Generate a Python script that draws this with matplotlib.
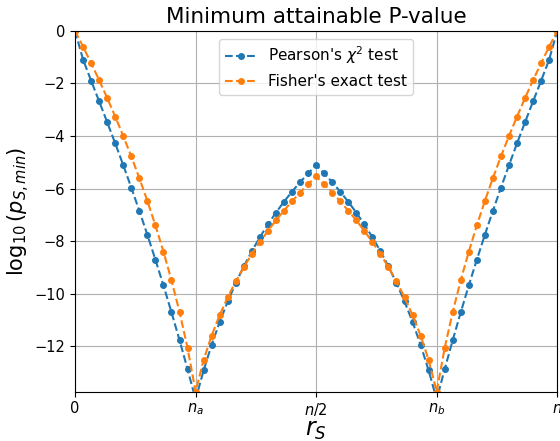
import matplotlib
matplotlib.use("Agg")
import matplotlib.pyplot as plt
import numpy as np

# r_S = 0 .. n with n = 60, n_a = 15, n_b = 45
r_s = list(range(61))

pearson = [0, -1.093, -1.895, -2.681, -3.473, -4.282, -5.111, -5.965, -6.847, -7.759,
           -8.705, -9.686, -10.706, -11.766, -12.871, -14.023, -12.919, -11.943, -11.075, -10.297,
           -9.595, -8.960, -8.381, -7.851, -7.365, -6.916, -6.501, -6.116, -5.758, -5.424,
           -5.111,
           -5.424, -5.758, -6.116, -6.501, -6.916, -7.365, -7.851, -8.381, -8.960, -9.595,
           -10.297, -11.075, -11.943, -12.919, -14.023, -12.871, -11.766, -10.706, -9.686, -8.705,
           -7.759, -6.847, -5.965, -5.111, -4.282, -3.473, -2.681, -1.895, -1.093, 0]

fisher = [0, -0.602, -1.227, -1.876, -2.553, -3.260, -4.000, -4.778, -5.599, -6.470,
          -7.400, -8.400, -9.488, -10.692, -12.063, -13.726, -12.522, -11.592, -10.814, -10.137,
          -9.535, -8.991, -8.494, -8.035, -7.609, -7.211, -6.838, -6.486, -6.152, -5.836,
          -5.535,
          -5.836, -6.152, -6.486, -6.838, -7.211, -7.609, -8.035, -8.494, -8.991, -9.535,
          -10.137, -10.814, -11.592, -12.522, -13.726, -12.063, -10.692, -9.488, -8.400, -7.400,
          -6.470, -5.599, -4.778, -4.000, -3.260, -2.553, -1.876, -1.227, -0.602, 0]

xtick_pos = [0, 15, 30, 45, 60]
xtick_labels = ['0', '$n_a$', '$n/2$', '$n_b$', '$n$']

fig = plt.figure(figsize=(5.6, 4.41), dpi=100)
ax = fig.add_axes([0.134, 0.112, 0.861, 0.818])

ax.plot(r_s, pearson, '--o', color='tab:blue', markersize=4, linewidth=1.5,
        label="Pearson's $\\chi^2$ test")
ax.plot(r_s, fisher, '--o', color='tab:orange', markersize=4, linewidth=1.5,
        label="Fisher's exact test")

ax.set_xlim(0, 60)
ax.set_ylim(min(fisher), 0)
ax.set_xticks(xtick_pos)
ax.set_xticklabels(xtick_labels)
ax.tick_params(labelsize=10.5)
ax.grid(True)

ax.set_title('Minimum attainable P-value', fontsize=15.5)
ax.set_xlabel('$r_S$', fontsize=17, labelpad=0)
ax.set_ylabel('$\\log_{10}(p_{S,min})$', fontsize=15, labelpad=2)
ax.legend(loc='upper center', fontsize=11)

fig.savefig('out.png', dpi=100)
